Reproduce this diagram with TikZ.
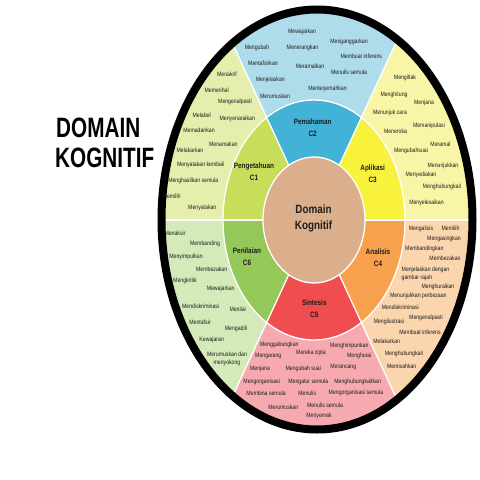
\documentclass[tikz,border=0pt]{standalone}
\usepackage{fontspec}
\setmainfont{Liberation Sans}[FakeStretch=0.82]
\newfontfamily\titlefont{Liberation Sans}[FakeStretch=0.74]

\definecolor{oneout}{HTML}{E6EEAE}
\definecolor{onemid}{HTML}{C8DD5A}
\definecolor{twoout}{HTML}{AEDCEA}
\definecolor{twomid}{HTML}{42B2D7}
\definecolor{threeout}{HTML}{F8F6A6}
\definecolor{threemid}{HTML}{F8F23C}
\definecolor{fourout}{HTML}{FAD5AE}
\definecolor{fourmid}{HTML}{F7A04E}
\definecolor{fiveout}{HTML}{F6AAB0}
\definecolor{fivemid}{HTML}{EF4D50}
\definecolor{sixout}{HTML}{D4EAB8}
\definecolor{sixmid}{HTML}{94C95A}
\definecolor{core}{HTML}{DCAF8C}
\definecolor{ink}{HTML}{1E1E1E}

\tikzset{
  word/.style={font=\fontsize{6.3}{7.4}\selectfont, text=ink, inner sep=0pt},
  ringlabel/.style={font=\bfseries\fontsize{7.8}{12}\selectfont, align=center, text=ink, inner sep=0pt},
  divider/.style={white, line width=1.3pt},
}

\begin{document}
\begin{tikzpicture}[x=1pt, y={(0pt,-1pt)}]
\useasboundingbox (0,0) rectangle (480,480);
\fill[white] (0,0) rectangle (480,480);

% outer band
\begin{scope}
\clip (317,219.5) ellipse [x radius=155.5, y radius=210];
\foreach \a/\b/\oc in {120/180/oneout, 60/120/twoout, 0/60/threeout, -60/0/fourout, -120/-60/fiveout, 180/240/sixout}
  \fill[\oc] (314,220) -- ({314+400*cos(\a)},{220-500*sin(\a)}) -- ({314+400*cos((\a+\b)/2)},{220-500*sin((\a+\b)/2)}) -- ({314+400*cos(\b)},{220-500*sin(\b)}) -- cycle;
% middle ring
\begin{scope}
\clip (314,220) ellipse [x radius=91, y radius=120];
\foreach \a/\b/\mc in {120/180/onemid, 60/120/twomid, 0/60/threemid, -60/0/fourmid, -120/-60/fivemid, 180/240/sixmid}
  \fill[\mc] (314,220) -- ({314+400*cos(\a)},{220-500*sin(\a)}) -- ({314+400*cos((\a+\b)/2)},{220-500*sin((\a+\b)/2)}) -- ({314+400*cos(\b)},{220-500*sin(\b)}) -- cycle;
\end{scope}
\foreach \a in {0,60,...,300}
  \draw[divider] (314,220) -- ({314+400*cos(\a)},{220-500*sin(\a)});
\draw[divider] (314,220) ellipse [x radius=91, y radius=120];
\end{scope}

% centre
\fill[core, draw=white, line width=1.3pt] (314,220) ellipse [x radius=51, y radius=63];
\draw[line width=8pt] (317,219.5) ellipse [x radius=155.5, y radius=210];

% title
\node[anchor=base west, inner sep=0pt, font=\titlefont\bfseries\fontsize{28}{30}\selectfont] (title1) at (56,137) {DOMAIN};
\node[anchor=base west, inner sep=0pt, font=\titlefont\bfseries\fontsize{28}{30}\selectfont] (title2) at (55,167) {KOGNITIF};

% ring labels
\node[ringlabel, font=\bfseries\fontsize{12}{16.5}\selectfont] (dk) at (313.5,218.5) {Domain\\Kognitif};
\node[ringlabel] (c1) at (254,172) {Pengetahuan\\C1};
\node[ringlabel] (c2) at (312.7,128) {Pemahaman\\C2};
\node[ringlabel] (c3) at (372.7,174) {Aplikasi\\C3};
\node[ringlabel] (c4) at (378,258) {Analisis\\C4};
\node[ringlabel] (c5) at (314.3,309) {Sintesis\\C5};
\node[ringlabel] (c6) at (247,256.5) {Penilaian\\C6};

% C1 words
\foreach \x/\y/\t [count=\i] in {227/74.5/Menakrif, 216.7/90.5/Memerihal, 235/102.3/Mengenalpasti, 201.7/115/Melabel, 237.3/118.7/Menyenaraikan, 199/130.5/Memadankan, 223.3/144.3/Menamakan, 190/150.5/Melakarkan, 200.7/165/Menyatakan kembali, 193.3/181/Menghasilkan semula, 171.7/196.3/Memilih, 202.3/208.3/Menyatakan}
  \node[word] (one\i) at (\x,\y) {\t};

% C2 words
\foreach \x/\y/\t [count=\i] in {302/32/Mewajarkan, 257/47.7/Mengubah, 302.5/47.5/Menerangkan, 349/41.7/Menganggarkan, 361.3/56.3/Membuat inferens, 263/63.5/Mentafsirkan, 310/66.7/Meramalkan, 349/72.7/Menulis semula, 270.3/80/Menjelaskan, 327.5/88.5/Menterjemahkan, 275/96/Merumuskan}
  \node[word] (two\i) at (\x,\y) {\t};

% C3 words
\foreach \x/\y/\t [count=\i] in {405/77.5/Mengitlak, 394/94.7/Menghitung, 424/102.7/Menjana, 390/113/Menunjuk cara, 429/125.8/Memanipulasi, 395.5/130.8/Meneroka, 440.5/144/Meramal, 411/151/Mengubahsuai, 443/165.5/Menunjukkan, 421/174.7/Menyediakan, 442/187.3/Menghubungkait, 426.5/203.3/Menyelesaikan}
  \node[word] (three\i) at (\x,\y) {\t};

% C4 words
\foreach \x/\y/\t [count=\i] in {421/228.5/Mengalisis, 450.5/228.5/Memilih, 444/238.5/Mengasingkan, 424.3/249.3/Membandingkan, 445/258.5/Membezakan, 438/287.3/Menghuraikan, 418.3/296.3/Menunjukkan perbezaan, 400.3/307.3/Mendiskriminasi, 389/321.7/Mengilustrasi, 426/318.3/Mengenalpasti, 420/332/Membuat inferens, 386.7/341.7/Melakarkan, 404/354.3/Menghubungkait, 401.7/366.7/Memisahkan}
  \node[word] (four\i) at (\x,\y) {\t};
\node[word, align=left, anchor=west] (fourrajah) at (401.5,273.7) {Menjelaskan dengan\\gambar rajah};

% C5 words
\foreach \x/\y/\t [count=\i] in {279.3/345/Menggabungkan, 311/353.3/Mereka cipta, 349.3/345.7/Menghimpunkan, 268.3/356/Mengarang, 359.3/356/Menghurai, 260/369/Menjana, 303.3/369/Mengubah suai, 343.3/366.7/Merancang, 261.7/382.3/Mengorganisasi, 308.3/382.3/Mengatur semula, 357.7/381.7/Menghubungkaitkan, 266/393.3/Membina semula, 307.3/393.3/Menulis, 356/393.3/Mengorganisasi semula, 283.3/407.7/Merumuskan, 325/405/Menulis semula, 319/416/Menyemak}
  \node[word] (five\i) at (\x,\y) {\t};

% C6 words
\foreach \x/\y/\t [count=\i] in {175/233.3/Menaksir, 205/244.3/Membanding, 186/256.7/Menyimpulkan, 211.7/269/Membezakan, 185/281/Mengkritik, 220.7/289.3/Mewajarkan, 200.7/306/Mendiskriminasi, 237.7/309/Menilai, 200/322.3/Mentafsir, 236/329/Mengadili, 211.7/340/Kewajaran}
  \node[word] (six\i) at (\x,\y) {\t};
\node[word, align=center] (sixsokong) at (227,359) {Merumuskan dan\\menyokong};
\end{tikzpicture}
\end{document}
